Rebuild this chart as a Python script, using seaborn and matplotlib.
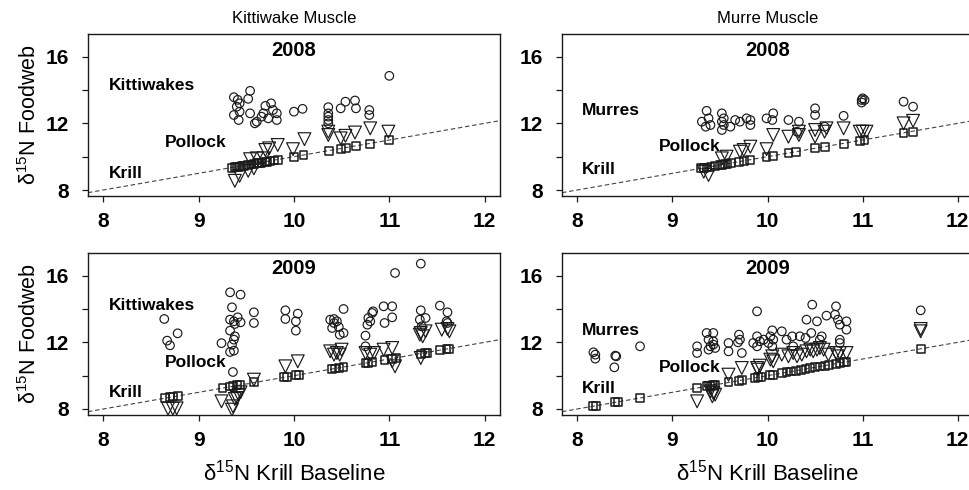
import matplotlib
matplotlib.use("Agg")
import matplotlib.pyplot as plt
import seaborn as sns
import pandas as pd

# ---------------- data ----------------
# Kittiwake muscle, 2008
kw08_bird_x = [9.37, 9.41, 9.43, 9.54, 9.52, 9.37, 9.40, 9.43, 9.42, 9.54, 9.59, 9.61, 9.68, 9.70, 9.76, 9.73, 9.66, 9.82, 9.82, 9.78,
               10.00, 10.09, 10.36, 10.36, 10.36, 10.36, 10.36, 10.49, 10.54, 10.64, 10.65, 10.79, 10.79, 11.00]
kw08_bird_y = [13.57, 13.41, 13.2, 13.95, 13.47, 12.5, 13.0, 12.7, 12.2, 12.6, 12.0, 12.1, 12.6, 13.05, 13.2, 12.3, 12.4, 12.6, 12.2, 12.8,
               12.7, 12.87, 12.97, 12.6, 12.4, 12.2, 12.0, 12.9, 13.3, 13.37, 12.9, 12.8, 12.5, 14.85]
kw08_poll_x = [9.38, 9.43, 9.52, 9.58, 9.54, 9.61, 9.68, 9.70, 9.74, 9.83, 9.99, 10.11, 10.36, 10.36, 10.49, 10.54, 10.64, 10.80, 10.99]
kw08_poll_y = [8.55, 8.85, 9.15, 9.3, 9.85, 9.9, 9.9, 10.4, 10.5, 10.7, 10.45, 11.05, 11.5, 11.3, 11.1, 11.25, 11.45, 11.7, 11.5]
kw08_krill_x = [9.35, 9.38, 9.40, 9.42, 9.45, 9.48, 9.52, 9.55, 9.58, 9.61, 9.63, 9.66, 9.70, 9.72, 9.75, 9.79, 9.83,
                10.00, 10.10, 10.37, 10.49, 10.55, 10.65, 10.80, 11.00]
kw08_krill_y = [9.33, 9.36, 9.38, 9.40, 9.43, 9.46, 9.50, 9.53, 9.56, 9.60, 9.62, 9.64, 9.68, 9.70, 9.73, 9.77, 9.80,
                9.98, 10.08, 10.36, 10.48, 10.53, 10.64, 10.78, 10.98]

# Murre muscle, 2008
mu08_bird_x = [9.36, 9.31, 9.35, 9.40, 9.38, 9.52, 9.52, 9.54, 9.54, 9.52, 9.61, 9.66, 9.71, 9.78, 9.82, 9.82, 9.99, 10.06, 10.05, 10.22,
               10.33, 10.31, 10.50, 10.50, 10.60, 10.80, 10.99, 11.00, 11.02, 10.99, 11.43, 11.53]
mu08_bird_y = [12.75, 12.1, 11.8, 11.9, 12.3, 12.6, 12.1, 11.9, 12.3, 11.6, 11.8, 12.2, 12.1, 12.3, 11.9, 12.2, 12.3, 12.6, 12.2, 12.2,
               12.1, 11.5, 12.9, 12.5, 11.8, 12.45, 13.4, 13.5, 13.4, 13.25, 13.3, 13.0]
mu08_poll_x = [9.38, 9.33, 9.52, 9.57, 9.71, 9.75, 9.82, 9.99, 10.06, 10.22, 10.33, 10.33, 10.50, 10.50, 10.60, 10.62, 10.80,
               10.97, 11.00, 11.04, 11.43, 11.53]
mu08_poll_y = [8.9, 9.1, 9.9, 10.0, 10.3, 10.4, 10.6, 10.45, 11.3, 11.2, 11.5, 11.3, 11.6, 11.2, 11.5, 11.7, 11.7,
               11.5, 11.5, 11.5, 12.0, 12.15]
mu08_krill_x = [9.30, 9.33, 9.36, 9.40, 9.45, 9.50, 9.52, 9.55, 9.58, 9.62, 9.70, 9.75, 9.82, 9.99, 10.06, 10.22, 10.30,
                10.50, 10.60, 10.80, 10.97, 11.02, 11.43, 11.53]
mu08_krill_y = [9.30, 9.33, 9.35, 9.40, 9.45, 9.50, 9.52, 9.55, 9.58, 9.62, 9.70, 9.75, 9.80, 9.98, 10.05, 10.20, 10.28,
                10.50, 10.60, 10.78, 10.96, 11.00, 11.40, 11.50]

# Kittiwake muscle, 2009
kw09_bird_x = [8.64, 8.67, 8.70, 8.78, 9.24, 9.33, 9.44, 9.35, 9.33, 9.37, 9.38, 9.41, 9.44, 9.33, 9.38, 9.37, 9.35, 9.37, 9.33, 9.36,
               9.58, 9.58, 9.91, 9.91, 10.04, 10.02, 10.02, 10.38, 10.42, 10.45, 10.47, 10.48, 10.52, 10.52, 10.42, 10.40,
               10.75, 10.77, 10.78, 10.82, 10.80, 10.83, 10.75, 10.94, 10.95, 11.03, 11.03, 11.06, 11.33, 11.33, 11.32, 11.38,
               11.34, 11.53, 11.61, 11.60, 11.61]
kw09_bird_y = [13.4, 12.1, 11.82, 12.54, 11.95, 15.0, 14.86, 14.1, 13.36, 13.26, 13.1, 13.5, 13.2, 12.7, 12.36, 12.16, 11.86, 11.5, 11.42, 10.22,
               13.8, 13.16, 13.92, 13.4, 13.72, 13.26, 12.7, 13.36, 13.16, 13.26, 12.92, 12.46, 12.56, 14.0, 13.4, 12.86,
               12.4, 13.06, 13.46, 13.76, 13.26, 13.86, 11.76, 14.16, 13.16, 14.16, 13.5, 16.16, 16.72, 13.92, 13.36, 13.46,
               12.96, 14.2, 13.8, 13.26, 13.16]
kw09_poll_x = [8.68, 8.73, 8.77, 9.24, 9.35, 9.36, 9.38, 9.40, 9.42, 9.44, 9.58, 9.91, 10.04, 10.38, 10.42, 10.45, 10.50, 10.48,
               10.75, 10.80, 10.84, 10.94, 11.03, 11.06, 11.03, 11.33, 11.35, 11.32, 11.38, 11.33, 11.55, 11.61, 11.63]
kw09_poll_y = [8.02, 8.02, 8.04, 8.46, 7.96, 8.16, 8.6, 8.66, 8.86, 9.0, 9.76, 10.56, 10.86, 11.46, 11.26, 11.36, 11.56, 11.26,
               11.36, 11.26, 11.36, 11.56, 11.66, 10.56, 10.86, 12.56, 12.36, 12.46, 12.66, 11.06, 12.76, 12.8, 12.66]
kw09_krill_x = [8.65, 8.70, 8.73, 8.78, 9.25, 9.33, 9.36, 9.40, 9.43, 9.58, 9.90, 9.93, 10.02, 10.05, 10.40, 10.43, 10.47, 10.52,
                10.75, 10.78, 10.82, 10.95, 11.03, 11.07, 11.33, 11.37, 11.40, 11.53, 11.60, 11.63]
kw09_krill_y = [8.68, 8.72, 8.75, 8.80, 9.28, 9.35, 9.38, 9.42, 9.45, 9.60, 9.90, 9.93, 10.02, 10.05, 10.40, 10.43, 10.47, 10.52,
                10.75, 10.78, 10.82, 10.95, 11.02, 11.06, 11.32, 11.36, 11.38, 11.52, 11.58, 11.62]

# Murre muscle, 2009
mu09_bird_x = [8.17, 8.19, 8.19, 8.40, 8.39, 8.41, 8.66, 9.26, 9.26, 9.36, 9.43, 9.38, 9.40, 9.43, 9.38, 9.45, 9.43, 9.59, 9.59, 9.70,
               9.71, 9.73, 9.69, 9.89, 9.89, 9.85, 9.92, 9.89, 9.96, 10.05, 10.03, 10.05, 10.06, 10.01, 10.15, 10.20, 10.26, 10.27,
               10.34, 10.40, 10.41, 10.47, 10.46, 10.52, 10.57, 10.55, 10.62, 10.72, 10.71, 10.74, 10.76, 10.83, 10.83, 10.76,
               10.76, 11.61]
mu09_bird_y = [11.4, 11.26, 11.02, 11.2, 10.5, 11.16, 11.76, 11.76, 11.36, 12.56, 12.56, 12.16, 11.76, 11.86, 11.56, 11.66, 12.06, 11.96, 11.46, 12.46,
               12.16, 11.36, 12.0, 13.86, 12.36, 11.96, 12.06, 11.76, 12.16, 12.72, 12.36, 11.76, 12.16, 11.96, 12.66, 12.16, 12.36, 11.76,
               12.36, 12.26, 13.36, 14.26, 12.56, 13.26, 12.36, 12.16, 13.6, 14.16, 13.66, 13.36, 13.06, 13.26, 12.76, 12.16,
               11.96, 13.92]
mu09_poll_x = [9.26, 9.40, 9.43, 9.42, 9.45, 9.40, 9.59, 9.73, 9.89, 9.92, 9.90, 10.05, 10.03, 10.06, 10.15, 10.22, 10.27, 10.31,
               10.36, 10.41, 10.45, 10.48, 10.52, 10.55, 10.59, 10.64, 10.72, 10.76, 10.83, 10.74, 11.61, 11.61]
mu09_poll_y = [8.46, 9.06, 8.96, 8.76, 8.86, 9.26, 10.06, 10.46, 10.46, 10.6, 10.36, 11.16, 10.96, 10.86, 11.26, 11.16, 11.36, 11.16,
               11.26, 11.46, 11.56, 11.46, 11.56, 11.66, 11.56, 11.26, 11.36, 11.36, 11.36, 11.16, 12.8, 12.66]
mu09_krill_x = [8.17, 8.20, 8.40, 8.43, 8.66, 9.26, 9.36, 9.40, 9.43, 9.45, 9.59, 9.70, 9.73, 9.87, 9.90, 9.93, 10.03, 10.06,
                10.15, 10.20, 10.25, 10.30, 10.35, 10.40, 10.45, 10.50, 10.55, 10.60, 10.65, 10.72, 10.76, 10.80, 10.83, 11.61]
mu09_krill_y = [8.18, 8.20, 8.40, 8.42, 8.66, 9.28, 9.36, 9.40, 9.43, 9.45, 9.60, 9.70, 9.72, 9.86, 9.90, 9.92, 10.03, 10.06,
                10.15, 10.20, 10.25, 10.30, 10.35, 10.40, 10.45, 10.50, 10.55, 10.60, 10.65, 10.72, 10.76, 10.80, 10.83, 11.60]

col_titles = ["Kittiwake Muscle", "Murre Muscle"]
years = ["2008", "2009"]
bird_names = ["Kittiwakes", "Murres"]
x_ticks = [8, 9, 10, 11, 12]
y_ticks = [8, 10, 12, 14, 16]
y_ticklabels = ["8", "", "12", "", "16"]

# ---------------- style ----------------
sns.set_theme(style="white")
plt.rcParams["font.family"] = ["Liberation Sans", "DejaVu Sans"]
plt.rcParams["mathtext.fontset"] = "custom"
plt.rcParams["mathtext.rm"] = "Liberation Sans"
plt.rcParams["mathtext.it"] = "Liberation Sans:italic"
plt.rcParams["mathtext.bf"] = "Liberation Sans:bold"
plt.rcParams["text.color"] = "black"
plt.rcParams["axes.labelcolor"] = "black"

fig = plt.figure(figsize=(9.7, 4.9), dpi=100)

rects = {
    (0, 0): [0.0907, 0.600, 0.4247, 0.3306],
    (0, 1): [0.5794, 0.600, 0.4237, 0.3306],
    (1, 0): [0.0907, 0.1531, 0.4247, 0.3306],
    (1, 1): [0.5794, 0.1531, 0.4237, 0.3306],
}

panels = {
    (0, 0): (kw08_bird_x, kw08_bird_y, kw08_poll_x, kw08_poll_y, kw08_krill_x, kw08_krill_y),
    (0, 1): (mu08_bird_x, mu08_bird_y, mu08_poll_x, mu08_poll_y, mu08_krill_x, mu08_krill_y),
    (1, 0): (kw09_bird_x, kw09_bird_y, kw09_poll_x, kw09_poll_y, kw09_krill_x, kw09_krill_y),
    (1, 1): (mu09_bird_x, mu09_bird_y, mu09_poll_x, mu09_poll_y, mu09_krill_x, mu09_krill_y),
}

edge = "#1a1a1a"
for (r, c), rect in rects.items():
    ax = fig.add_axes(rect)
    bx, by, px, py, kx, ky = panels[(r, c)]
    ax.axline((8, 8), slope=1, color="#444444", lw=0.8, ls=(0, (4, 2.5)), zorder=1)
    common = dict(ax=ax, color="k", facecolor="none", edgecolor=edge, linewidth=0.85, legend=False, zorder=3)
    sns.scatterplot(data=pd.DataFrame({"x": bx, "y": by}), x="x", y="y", marker="o", s=38, **common)
    sns.scatterplot(data=pd.DataFrame({"x": px, "y": py}), x="x", y="y", marker="v", s=85, **common)
    sns.scatterplot(data=pd.DataFrame({"x": kx, "y": ky}), x="x", y="y", marker="s", s=32,
                    **{**common, "linewidth": 1.1})

    ax.set_xlim(7.84, 12.16)
    ax.set_ylim(7.64, 17.36)
    ax.set_xticks(x_ticks)
    ax.set_xticklabels([str(t) for t in x_ticks])
    ax.set_yticks(y_ticks)
    ax.set_yticklabels(y_ticklabels)
    ax.tick_params(axis="both", which="both", bottom=True, left=True, top=False, right=False,
                   direction="out", length=4.5, width=0.9, color=edge, labelsize=15, labelcolor="black")
    ax.tick_params(axis="x", pad=7)
    ax.tick_params(axis="y", pad=9)
    for lab in ax.get_xticklabels() + ax.get_yticklabels():
        lab.set_fontweight("bold")
    for sp in ax.spines.values():
        sp.set_color(edge)
        sp.set_linewidth(1.0)

    ax.set_xlabel("")
    ax.set_ylabel("")
    if c == 0:
        ax.set_ylabel(r"δ$^{15}$N Foodweb", fontsize=15.5, va="center")
        ax.yaxis.set_label_coords(-58 / 412, 0.5)
    if r == 1:
        ax.set_xlabel(r"δ$^{15}$N Krill Baseline", fontsize=16, va="center")
        ax.xaxis.set_label_coords(0.5, -58 / 162)
    if r == 0:
        ax.text(0.5, 1 + 16 / 162, col_titles[c], transform=ax.transAxes, ha="center", va="center", fontsize=12)

    ax.text(10.0, 16.38 if r == 0 else 16.4, years[r], ha="center", va="center", fontsize=14.5, fontweight="bold")
    lab_kw = dict(ha="center", va="center", fontsize=12.5, fontweight="bold")
    if c == 0:
        ax.text(8.51, 14.25 if r == 0 else 14.2, bird_names[c], **lab_kw)
        ax.text(8.97, 10.84 if r == 0 else 10.8, "Pollock", **lab_kw)
        ax.text(8.24, 9.0, "Krill", **lab_kw)
    else:
        ax.text(8.35, 12.75 if r == 0 else 12.7, bird_names[c], **lab_kw)
        ax.text(9.18, 10.6 if r == 0 else 10.48, "Pollock", **lab_kw)
        ax.text(8.23, 9.23, "Krill", **lab_kw)

fig.savefig("out.png", dpi=100)
